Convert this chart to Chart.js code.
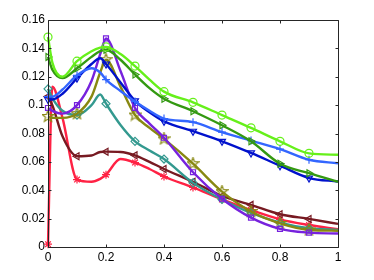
<!DOCTYPE html>
<html>
<head>
<meta charset="utf-8">
<script src="https://cdn.jsdelivr.net/npm/chart.js@4/dist/chart.umd.min.js"></script>
<style>
  html, body { margin: 0; padding: 0; background: #fff; }
  #chart { display: block; }
</style>
</head>
<body>
<canvas id="chart" width="374" height="280"></canvas>
<script>
// sample positions along x (markers sit on the 0.1 steps)
const xs = [0, 0.015, 0.05, 0.1, 0.15, 0.18, 0.2, 0.25, 0.3, 0.35, 0.4, 0.5, 0.6, 0.7, 0.8, 0.9, 1];

const lightGreen = [0.148, 0.130, 0.120, 0.131, 0.138, 0.1405, 0.141, 0.136, 0.1275, 0.118, 0.1095, 0.102, 0.093, 0.084, 0.0745, 0.066, 0.065];
const darkGreen  = [0.134, 0.125, 0.119, 0.126, 0.134, 0.138, 0.139, 0.132, 0.1216, 0.112, 0.1045, 0.0957, 0.0858, 0.0745, 0.0587, 0.052, 0.046];
const lightBlue  = [0.106, 0.106, 0.111, 0.121, 0.126, 0.123, 0.118, 0.110, 0.1025, 0.096, 0.0905, 0.088, 0.081, 0.075, 0.069, 0.0615, 0.059];
const darkBlue   = [0.104, 0.104, 0.108, 0.119, 0.129, 0.133, 0.129, 0.116, 0.103, 0.095, 0.0886, 0.0816, 0.0745, 0.0663, 0.0573, 0.0486, 0.0462];
const purple     = [0.098, 0.096, 0.094, 0.100, 0.117, 0.136, 0.147, 0.124, 0.098, 0.087, 0.077, 0.0527, 0.034, 0.0207, 0.0128, 0.0101, 0.0095];
const olive      = [0.092, 0.091, 0.091, 0.094, 0.106, 0.123, 0.132, 0.113, 0.093, 0.084, 0.0762, 0.0587, 0.039, 0.025, 0.0166, 0.012, 0.0115];
const teal       = [0.1115, 0.105, 0.096, 0.093, 0.100, 0.1075, 0.101, 0.086, 0.0745, 0.068, 0.062, 0.0452, 0.0335, 0.024, 0.0172, 0.0132, 0.012];
const maroon     = [0.106, 0.100, 0.078, 0.064, 0.0645, 0.067, 0.0672, 0.067, 0.0646, 0.060, 0.055, 0.046, 0.036, 0.0297, 0.0231, 0.0198, 0.0163];
const red        = [0.002, 0.113, 0.091, 0.0475, 0.046, 0.048, 0.051, 0.062, 0.0595, 0.055, 0.0497, 0.042, 0.0335, 0.026, 0.0195, 0.0155, 0.0125];

const xTicks = [0, 0.2, 0.4, 0.6, 0.8, 1];
const yTicks = [0, 0.02, 0.04, 0.06, 0.08, 0.1, 0.12, 0.14, 0.16];

// matlab-like pentagram marker
function pentagram(color) {
  const c = document.createElement('canvas');
  c.width = 13; c.height = 13;
  const g = c.getContext('2d');
  g.strokeStyle = color;
  g.lineWidth = 1.2;
  g.beginPath();
  for (let i = 0; i < 10; i++) {
    const r = i % 2 ? 2.6 : 6;
    const a = -Math.PI / 2 + i * Math.PI / 5;
    const px = 6.5 + r * Math.cos(a), py = 6.5 + r * Math.sin(a);
    if (i) g.lineTo(px, py); else g.moveTo(px, py);
  }
  g.closePath();
  g.stroke();
  return c;
}

const isMarker = x => x < 0.95 && Math.abs(x * 10 - Math.round(x * 10)) < 1e-6;
const fmt = v => String(+Number(v).toFixed(2));

function series(values, color, style, rotation, radius) {
  return {
    data: xs.map((x, i) => ({ x: x, y: values[i] })),
    borderColor: color,
    borderWidth: 2.4,
    borderJoinStyle: 'round',
    cubicInterpolationMode: 'monotone',
    pointStyle: style,
    rotation: rotation || 0,
    pointRadius: xs.map(x => isMarker(x) ? (radius || 4) : 0),
    pointBorderColor: color,
    pointBackgroundColor: 'rgba(0,0,0,0)',
    pointBorderWidth: 1.2,
    clip: false
  };
}

const framePlugin = {
  id: 'frame',
  afterDraw(chart) {
    const { ctx, chartArea: a, scales } = chart;
    const L = a.left + 0.5, R = a.right + 0.5, T = a.top + 0.5, B = a.bottom + 0.5;
    ctx.save();
    ctx.strokeStyle = '#262626';
    ctx.lineWidth = 1;
    ctx.beginPath();
    ctx.rect(L, T, R - L, B - T);
    xTicks.forEach(v => {
      const px = Math.round(scales.x.getPixelForValue(v)) + 0.5;
      ctx.moveTo(px, B); ctx.lineTo(px, B - 3);
      ctx.moveTo(px, T); ctx.lineTo(px, T + 3);
    });
    yTicks.forEach(v => {
      const py = Math.round(scales.y.getPixelForValue(v)) + 0.5;
      ctx.moveTo(L, py); ctx.lineTo(L + 3, py);
      ctx.moveTo(R, py); ctx.lineTo(R - 3, py);
    });
    ctx.stroke();
    ctx.restore();
  }
};

Chart.defaults.font.family = "'Liberation Sans', Arial, sans-serif";
Chart.defaults.font.size = 12;
Chart.defaults.color = '#000';

new Chart(document.getElementById('chart'), {
  type: 'line',
  data: {
    datasets: [
      series(lightGreen, '#66f01a', 'circle'),
      series(darkGreen, '#339911', 'triangle', 90),
      series(lightBlue, '#3366ff', 'cross'),
      series(darkBlue, '#0011cc', 'triangle', 180),
      series(purple, '#7722dd', 'rect', 0, 3.5),
      series(olive, '#888811', pentagram('#888811')),
      series(teal, '#33998f', 'rectRot'),
      series(maroon, '#771a22', 'triangle', -90),
      series(red, '#ff2244', 'star')
    ]
  },
  options: {
    responsive: false,
    animation: false,
    layout: { padding: { top: 20, right: 36, left: 0, bottom: 0 } },
    plugins: { legend: { display: false }, tooltip: { enabled: false } },
    scales: {
      x: {
        type: 'linear',
        min: 0, max: 1,
        afterFit: s => { s.height = 33; },
        afterBuildTicks: s => { s.ticks = xTicks.map(v => ({ value: v })); },
        grid: { display: false, drawTicks: false },
        border: { display: false },
        ticks: { padding: 3, autoSkip: false, maxRotation: 0, callback: fmt }
      },
      y: {
        min: 0, max: 0.16,
        afterFit: s => { s.width = 48; },
        afterBuildTicks: s => { s.ticks = yTicks.map(v => ({ value: v })); },
        grid: { display: false, drawTicks: false },
        border: { display: false },
        ticks: { padding: 3, autoSkip: false, callback: fmt }
      }
    }
  },
  plugins: [framePlugin]
});
</script>
</body>
</html>
